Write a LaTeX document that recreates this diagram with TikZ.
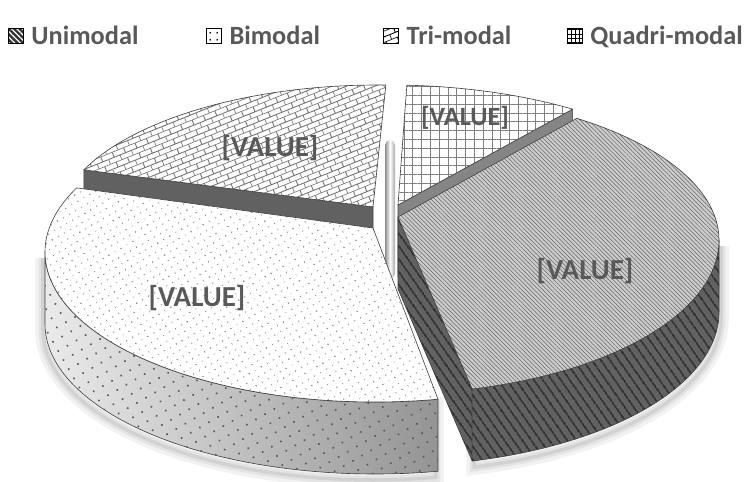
\documentclass[tikz,border=0pt]{standalone}
\usepackage{fontspec}
\setmainfont{Carlito}
\usepackage{xcolor}
\usepackage{tikz}
\usetikzlibrary{positioning, calc, patterns, patterns.meta}

\definecolor{valgray}{HTML}{595959}
% small tilted bricks for the tri-modal slice
\pgfdeclarepattern{
  name=brickwall,
  type=uncolored,
  bottom left={\pgfpoint{-0.1pt}{-0.1pt}},
  top right={\pgfpoint{7.1pt}{6.1pt}},
  tile size={\pgfpoint{7pt}{6pt}},
  tile transformation={\pgftransformrotate{22}},
  code={
    \pgfsetlinewidth{0.5pt}
    \pgfpathmoveto{\pgfpoint{0pt}{0pt}}\pgfpathlineto{\pgfpoint{7pt}{0pt}}
    \pgfpathmoveto{\pgfpoint{0pt}{3pt}}\pgfpathlineto{\pgfpoint{7pt}{3pt}}
    \pgfpathmoveto{\pgfpoint{0pt}{0pt}}\pgfpathlineto{\pgfpoint{0pt}{3pt}}
    \pgfpathmoveto{\pgfpoint{3.5pt}{3pt}}\pgfpathlineto{\pgfpoint{3.5pt}{6pt}}
    \pgfusepath{stroke}
  }
}
\tikzset{
  rim/.style={draw=black!75, line width=0.35pt, line join=round},
  valuelabel/.style={text=valgray, font=\bfseries\fontsize{16.5}{18}\selectfont},
  keytext/.style={text=valgray, font=\bfseries\fontsize{15}{17}\selectfont, inner sep=0pt, text height=9.8pt, text depth=0pt},
  keybox/.style={draw=black, line width=0.8pt, minimum size=8.5pt, inner sep=0pt},
  unitop/.style={rim, preaction={fill=black!20}, pattern={Lines[angle=-45,distance=1.7pt,line width=0.3pt]}, pattern color=black!60},
  uniside/.style={rim, preaction={fill=black!62}, pattern={Lines[angle=-55,distance=4pt,line width=1.2pt]}, pattern color=black!80},
  bitop/.style={rim, preaction={fill=white}, pattern={Dots[radius=0.5pt,distance=4pt,angle=30]}, pattern color=black!45},
  biside/.style={rim, left color=black!8, right color=black!42, postaction={pattern={Dots[radius=0.65pt,distance=6pt,angle=30]}, pattern color=black!65}},
  tritop/.style={rim, preaction={fill=white}, pattern=brickwall, pattern color=black!55},
  quadtop/.style={rim, preaction={fill=white}, pattern={Hatch[distance=5pt,angle=0,line width=0.5pt]}, pattern color=black!50},
  cutface/.style={rim, fill=#1},
}

\begin{document}
\begin{tikzpicture}[x=0.02cm, y=-0.02cm]
\useasboundingbox (0,0) rectangle (748,482);
% legend
\node[keybox, preaction={fill=black!80}, pattern={Lines[angle=-45,distance=2.2pt,line width=0.7pt]}, pattern color=white] (uniKey) at (16,36) {};
\node[keytext, right=4pt of uniKey] (uniKeyText) {Unimodal};
\node[keybox, preaction={fill=white}, pattern={Dots[radius=0.6pt,distance=4pt]}, pattern color=black] (biKey) at (214,36) {};
\node[keytext, right=4pt of biKey] (biKeyText) {Bimodal};
\node[keybox, preaction={fill=white}, pattern=brickwall, pattern color=black] (triKey) at (391,36) {};
\node[keytext, right=4pt of triKey] (triKeyText) {Tri-modal};
\node[keybox, preaction={fill=white}, pattern={Hatch[distance=2.5pt,angle=0,line width=0.5pt]}, pattern color=black] (quadKey) at (575,36) {};
\node[keytext, right=4pt of quadKey] (quadKeyText) {Quadri-modal};

% rod seen between the slices
\shade[left color=black!45, right color=black!35, middle color=white, rounded corners=3pt] (385,140) rectangle (395,279);

% tri-modal slice
\coordinate (triApex) at (373,207);
\coordinate (triLeft) at ($(378,228)+(204:322 and 143)$);
\path[cutface=black!62] (triApex) -- (triLeft) -- ++(0,72) -- ($(triApex)+(0,72)$) -- cycle;
\path[tritop] (triApex) -- (triLeft) arc[start angle=204, end angle=271.4, x radius=322, y radius=143] -- cycle;

% quadri-modal slice
\coordinate (quadApex) at (398,205);
\coordinate (quadLeft) at ($(389,228)+(273.1:330 and 143)$);
\coordinate (quadRight) at ($(389,228)+(303.8:330 and 143)$);
\path[cutface=black!48] (quadApex) -- (quadRight) -- ++(0,72) -- ($(quadApex)+(0,72)$) -- cycle;
\path[quadtop] (quadApex) -- (quadLeft) arc[start angle=273.1, end angle=303.8, x radius=330, y radius=143] -- cycle;

% bimodal slice
\coordinate (biApex) at (373,228);
\coordinate (biFront) at ($(375,252)+(79:330 and 150)$);
\foreach \w/\o in {9/0.05, 5/0.06, 2/0.08}
  \draw[black, opacity=\o, line width=\w pt] ($(biFront)+(-2,6)$) arc[start angle=79, end angle=180, x radius=330, y radius=150] -- ++(0,72) arc[start angle=180, end angle=79, x radius=330, y radius=150] -- cycle;
\path[biside] (biFront) arc[start angle=79, end angle=180, x radius=330, y radius=150] -- ++(0,72) arc[start angle=180, end angle=79, x radius=330, y radius=150] -- cycle;
\path[bitop] (biApex) -- (biFront) arc[start angle=79, end angle=205.3, x radius=330, y radius=150] -- cycle;

% unimodal slice
\coordinate (uniApex) at (398,217);
\coordinate (uniBack) at ($(389,240)+(-55.3:330 and 148)$);
\coordinate (uniRight) at ($(389,240)+(0:330 and 148)$);
\coordinate (uniFront) at ($(389,240)+(75.4:330 and 154)$);
\foreach \w/\o in {9/0.05, 5/0.06, 2/0.08}
  \draw[black, opacity=\o, line width=\w pt] ($(uniRight)+(2,6)$) arc[start angle=0, end angle=75.4, x radius=330, y radius=154] -- ++(0,72) arc[start angle=75.4, end angle=0, x radius=330, y radius=154] -- cycle;
\path[uniside] (uniApex) -- (uniFront) -- ++(0,72) -- ($(uniApex)+(0,72)$) -- cycle;
\path[uniside] (uniRight) arc[start angle=0, end angle=75.4, x radius=330, y radius=154] -- ++(0,72) arc[start angle=75.4, end angle=0, x radius=330, y radius=154] -- cycle;
\path[unitop] (uniApex) -- (uniBack) arc[start angle=-55.3, end angle=0, x radius=330, y radius=148] arc[start angle=0, end angle=75.4, x radius=330, y radius=154] -- cycle;

% value labels
\node[valuelabel] (uniLabel) at (585,271) {[VALUE]};
\node[valuelabel] (biLabel) at (197,298) {[VALUE]};
\node[valuelabel] (triLabel) at (270,148) {[VALUE]};
\node[valuelabel, font=\bfseries\fontsize{15}{16}\selectfont] (quadLabel) at (465,118) {[VALUE]};
\end{tikzpicture}
\end{document}
